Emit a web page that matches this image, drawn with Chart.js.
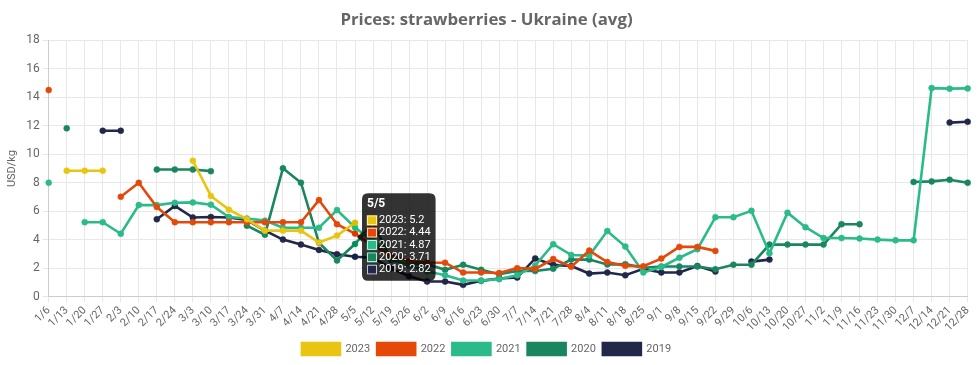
<!DOCTYPE html>
<html>
<head>
<meta charset="utf-8">
<script src="https://cdn.jsdelivr.net/npm/chart.js@4.4.1/dist/chart.umd.min.js"></script>
<style>
  html, body { margin: 0; padding: 0; background: #fff; }
  #wrap { width: 979px; height: 365px; position: relative; }
</style>
</head>
<body>
<div id="wrap"><canvas id="c" width="979" height="365"></canvas></div>
<script>
const categories = ["1/6","1/13","1/20","1/27","2/3","2/10","2/17","2/24","3/3","3/10","3/17","3/24","3/31","4/7","4/14","4/21","4/28","5/5","5/12","5/19","5/26","6/2","6/9","6/16","6/23","6/30","7/7","7/14","7/21","7/28","8/4","8/11","8/18","8/25","9/1","9/8","9/15","9/22","9/29","10/6","10/13","10/20","10/27","11/2","11/9","11/16","11/23","11/30","12/7","12/14","12/21","12/28"];

const seriesNames = ["2023","2022","2021","2020","2019"];

const y2023 = [null,8.85,8.85,8.85,null,null,null,null,9.55,7.08,6.12,5.45,4.65,4.65,4.65,3.82,4.3,5.2,
  null,null,null,null,null,null,null,null,null,null,null,null,null,null,null,null,null,null,null,null,null,null,null,null,null,null,null,null,null,null,null,null,null,null];

const y2022 = [14.5,null,null,null,7.02,8.0,6.3,5.24,5.24,5.24,5.24,5.24,5.24,5.24,5.24,6.79,5.1,4.44,3.6,2.9,2.5,2.42,2.4,1.71,1.71,1.68,2.02,1.97,2.66,2.12,3.25,2.45,2.18,2.15,2.69,3.51,3.51,3.23,
  null,null,null,null,null,null,null,null,null,null,null,null,null,null];

const y2021 = [8.01,null,5.24,5.24,4.43,6.44,6.44,6.6,6.63,6.47,5.6,5.5,5.35,4.85,4.85,4.85,6.09,4.87,3.9,2.8,2.2,1.8,1.52,1.15,1.15,1.25,1.52,2.2,3.7,2.94,2.9,4.62,3.53,1.72,2.1,2.75,3.35,5.59,5.59,6.04,3.07,5.91,4.89,4.13,4.13,4.1,4.02,3.97,3.97,14.64,14.6,14.62];

const y2020 = [null,11.82,null,null,null,null,8.93,8.93,8.93,8.82,null,5.0,4.36,9.02,8.01,3.8,2.56,3.71,5.2,2.6,2.3,2.3,1.9,2.26,1.9,1.6,1.82,1.82,1.98,2.62,2.62,2.28,2.3,2.05,2.14,2.14,2.14,1.94,2.26,2.26,3.67,3.67,3.67,3.67,5.1,5.1,null,null,8.06,8.1,8.22,8.01];

const y2019 = [null,null,null,11.65,11.65,null,5.45,6.38,5.57,5.6,5.57,5.4,4.65,4.02,3.67,3.3,3.0,2.82,2.75,2.0,1.45,1.08,1.08,0.85,1.13,1.3,1.36,2.7,2.25,2.17,1.64,1.71,1.52,1.97,1.72,1.72,2.17,1.78,null,2.48,2.62,null,null,null,null,null,null,null,null,null,12.22,12.28];

const yTicks = [0,2,4,6,8,10,12,14,16,18];

const colors = ["#E8C511","#E5490A","#2BBB8A","#1A8660","#222849"];
const allSeries = [y2023,y2022,y2021,y2020,y2019];

Chart.defaults.font.family = "Roboto, 'Liberation Sans', sans-serif";
Chart.defaults.color = "#666";

const datasets = seriesNames.map((n,i)=>({
  label: n,
  data: allSeries[i],
  borderColor: colors[i],
  backgroundColor: colors[i],
  pointBackgroundColor: colors[i],
  pointBorderColor: colors[i],
  borderWidth: 2.6,
  pointRadius: 3,
  pointBorderWidth: 0.5,
  pointHoverRadius: 3,
  pointHoverBorderWidth: 0.5,
  tension: 0,
  spanGaps: false
}));

const chart = new Chart(document.getElementById('c'), {
  type: 'line',
  data: { labels: categories, datasets },
  options: {
    responsive: false,
    animation: false,
    layout: { padding: { left: 4, right: 10, top: 0, bottom: 0 } },
    interaction: { mode: 'index', intersect: false },
    plugins: {
      title: {
        display: true,
        text: 'Prices: strawberries - Ukraine (avg)',
        color: '#666',
        font: { size: 16.8, weight: 'bold', family: "'Open Sans', sans-serif" },
        padding: { top: 10, bottom: 10 }
      },
      legend: {
        position: 'bottom',
        labels: {
          boxWidth: 38,
          boxHeight: 12,
          color: '#666',
          font: { size: 11 },
          padding: 7
        }
      },
      tooltip: {
        enabled: true,
        backgroundColor: 'rgba(0,0,0,0.8)',
        titleFont: { size: 12, weight: 'bold', lineHeight: 1 },
        bodyFont: { size: 11, lineHeight: 1.12 },
        padding: 5,
        titleMarginBottom: 4,
        bodySpacing: 0,
        boxWidth: 10,
        boxHeight: 10,
        cornerRadius: 6,
        caretSize: 5,
        callbacks: {
          label: (ctx) => ctx.dataset.label + ': ' + ctx.parsed.y
        }
      }
    },
    scales: {
      x: {
        grid: { color: '#e8e8e8', tickLength: 5 },
        border: { color: '#ccc' },
        ticks: { minRotation: 45, maxRotation: 45, autoSkip: false, font: { size: 11 }, color: '#666', padding: 2 }
      },
      y: {
        min: 0, max: 18,
        afterBuildTicks: (axis) => { axis.ticks = yTicks.map(v => ({ value: v })); },
        grid: { color: '#e8e8e8', tickLength: 6 },
        border: { color: '#ccc' },
        ticks: { font: { size: 12 }, color: '#666', padding: 3 },
        title: { display: true, text: 'USD/kg', color: '#666', font: { size: 11 }, padding: { top: 2, bottom: 4 } }
      }
    }
  }
});

const idx = categories.indexOf('5/5');
const active = datasets.map((d,i)=>({ datasetIndex: i, index: idx }));
chart.setActiveElements(active);
chart.tooltip.setActiveElements(active, { x: 0, y: 0 });
chart.update();
</script>
</body>
</html>
